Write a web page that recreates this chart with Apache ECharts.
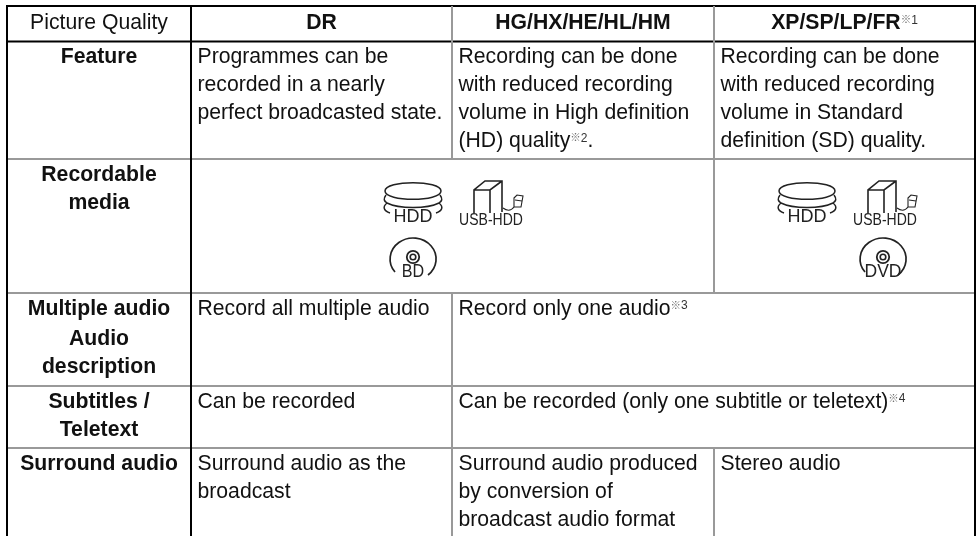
<!DOCTYPE html>
<html>
<head>
<meta charset="utf-8">
<style>html,body{margin:0;padding:0;background:#fff}#c{width:980px;height:536px}</style>
<script src="https://cdn.jsdelivr.net/npm/echarts@6/dist/echarts.min.js"></script>
</head>
<body>
<div id="c"></div>
<script>
// ---- table content ----
const headerCells = ["Picture Quality", "DR", "HG/HX/HE/HL/HM", "XP/SP/LP/FR※1"];
const rowLabels = [
  ["Feature"],
  ["Recordable", "media"],
  ["Multiple audio", "Audio", "description"],
  ["Subtitles /", "Teletext"],
  ["Surround audio"]
];
const featureCells = [
  ["Programmes can be", "recorded in a nearly", "perfect broadcasted state."],
  ["Recording can be done", "with reduced recording", "volume in High definition", "(HD) quality※2."],
  ["Recording can be done", "with reduced recording", "volume in Standard", "definition (SD) quality."]
];
const audioCells = [["Record all multiple audio"], ["Record only one audio※3"]];
const subtitleCells = [["Can be recorded"], ["Can be recorded (only one subtitle or teletext)※4"]];
const surroundCells = [
  ["Surround audio as the", "broadcast"],
  ["Surround audio produced", "by conversion of", "broadcast audio format"],
  ["Stereo audio"]
];
const mediaIcons = [
  ["hdd", 0], ["usb", 0], ["bd", 0],
  ["hdd", 1], ["usb", 1], ["dvd", 1]
];

// ---- layout ----
const colEdges = [7, 191, 452, 714, 975];
const rowEdges = [6, 41.5, 159, 293, 386, 448, 536];
const LINE_H = 28, PAD = 6.5, FS = 21.2;
const FONT = '"Liberation Sans", Arial, sans-serif';
const iconAnchors = [[413, 191], [807, 191]];
const BLACK = '#000', GREY = '#999';
// [x0,y0,x1,y1,colour]
const rules = [
  [colEdges[0] - 1, rowEdges[0], colEdges[4] + 1, rowEdges[0], BLACK],
  [colEdges[0], rowEdges[1], colEdges[4], rowEdges[1], BLACK],
  [colEdges[0], rowEdges[2], colEdges[4], rowEdges[2], GREY],
  [colEdges[0], rowEdges[3], colEdges[4], rowEdges[3], GREY],
  [colEdges[0], rowEdges[4], colEdges[4], rowEdges[4], GREY],
  [colEdges[0], rowEdges[5], colEdges[4], rowEdges[5], GREY],
  [colEdges[2], rowEdges[0], colEdges[2], rowEdges[2], GREY],
  [colEdges[2], rowEdges[3], colEdges[2], rowEdges[6], GREY],
  [colEdges[3], rowEdges[0], colEdges[3], rowEdges[3], GREY],
  [colEdges[3], rowEdges[5], colEdges[3], rowEdges[6], GREY],
  [colEdges[0], rowEdges[0], colEdges[0], rowEdges[6], BLACK],
  [colEdges[1], rowEdges[0], colEdges[1], rowEdges[6], BLACK],
  [colEdges[4], rowEdges[0], colEdges[4], rowEdges[6], BLACK]
];

// ---- cell list built from the arrays ----
const cells = [];
headerCells.forEach((t, c) => cells.push({ c, c2: c + 1, r: 0, lines: [t], center: true, bold: c > 0 }));
rowLabels.forEach((lines, i) => cells.push({ c: 0, c2: 1, r: i === 0 ? 1 : i + 1, lines, center: true, bold: true, gap: i === 2 ? 2 : 0 }));
featureCells.forEach((lines, i) => cells.push({ c: i + 1, c2: i + 2, r: 1, lines }));
cells.push({ c: 1, c2: 2, r: 3, lines: audioCells[0] }, { c: 2, c2: 4, r: 3, lines: audioCells[1] });
cells.push({ c: 1, c2: 2, r: 4, lines: subtitleCells[0] }, { c: 2, c2: 4, r: 4, lines: subtitleCells[1] });
surroundCells.forEach((lines, i) => cells.push({ c: i + 1, c2: i + 2, r: 5, lines }));

function lineText(line, x, y, align, bold) {
  const parts = line.split(/※(\d)/);
  const w = bold ? 'bold ' : '';
  let text = '';
  parts.forEach((p, i) => {
    if (!p) return;
    if (i % 2 === 0) text += '{n|' + p + '}';
    else text += '{m|※}{d|' + p + '}';
  });
  return {
    type: 'text',
    style: {
      x, y, text, align, verticalAlign: 'middle',
      rich: {
        n: { font: w + FS + 'px ' + FONT, fill: '#111', lineHeight: LINE_H, height: LINE_H },
        m: { font: '10.5px "Noto Sans CJK JP"', fill: '#666', verticalAlign: 'top', lineHeight: 20, height: 20 },
        d: { font: '12px ' + FONT, fill: '#333', verticalAlign: 'top', lineHeight: 22, height: 22 }
      }
    }
  };
}

function renderCell(params, api) {
  const cell = cells[api.value(0)];
  const x0 = api.coord([colEdges[cell.c], 0])[0];
  const x1 = api.coord([colEdges[cell.c2], 0])[0];
  const y0 = api.coord([0, rowEdges[cell.r]])[1];
  const x = cell.center ? (x0 + x1) / 2 : x0 + PAD;
  const first = cell.r === 0 ? y0 + 17.5 : y0 + 16;
  return {
    type: 'group',
    children: cell.lines.map((l, i) =>
      lineText(l, x, first + i * LINE_H + (i > 0 ? (cell.gap || 0) : 0), cell.center ? 'center' : 'left', cell.bold))
  };
}

function renderRule(params, api) {
  const a = api.coord([api.value(0), api.value(1)]);
  const b = api.coord([api.value(2), api.value(3)]);
  return {
    type: 'line',
    shape: { x1: a[0], y1: a[1], x2: b[0], y2: b[1] },
    style: { stroke: rules[params.dataIndex][4], lineWidth: 2 }
  };
}

const iconInk = '#222';
function iconLabel(text, x, y, size, sx) {
  return { type: 'text', x, y, scaleX: sx, scaleY: 1,
    style: { x: 0, y: 0, text, align: 'center', verticalAlign: 'middle', fill: iconInk,
      font: size + 'px "Liberation Sans"' } };
}
function stroke(d, w) {
  return { type: 'path', shape: { pathData: d }, style: { fill: null, stroke: iconInk, lineWidth: w || 1.5 } };
}
// icon glyphs, relative to the cell's media anchor
function glyph(kind) {
  if (kind === 'hdd') return [
    stroke('M -28 0 C -28 -11 28 -11 28 0 C 28 11 -28 11 -28 0 Z'),
    stroke('M -27 4 C -30 8 -29 10 -26 12 C -14 18 14 18 26 12 C 29 10 30 8 27 4'),
    stroke('M -26 12 C -31 16 -29 20 -23 22 M 26 12 C 31 16 29 20 23 22'),
    iconLabel('HDD', 0, 26, 18, 1)
  ];
  if (kind === 'usb') return [
    stroke('M 61 22 L 61 -1 L 72 -10 L 89 -10 L 89 21 M 61 -1 L 77 -1 L 89 -10 M 77 -1 L 77 22', 1.6),
    stroke('M 90 17 C 94 20 98 20 101 16', 1.1),
    stroke('M 101 7 L 104 4 L 110 5 L 108 16 L 101 16 Z M 102 9 L 109 10', 1.1),
    iconLabel('USB-HDD', 78, 30, 16.3, 0.86)
  ];
  const label = kind === 'bd' ? 'BD' : 'DVD';
  return [
    stroke('M -18 81 A 23 21 0 1 1 15 84', 1.7),
    { type: 'circle', shape: { cx: 0, cy: 66, r: 6.2 }, style: { fill: '#fff', stroke: iconInk, lineWidth: 1.8 } },
    { type: 'circle', shape: { cx: 0, cy: 66, r: 2.8 }, style: { fill: '#fff', stroke: iconInk, lineWidth: 1.6 } },
    iconLabel(label, 0, 81, 17.5, kind === 'bd' ? 0.92 : 1)
  ];
}
function renderIcon(params, api) {
  const item = mediaIcons[api.value(0)];
  const p = api.coord(iconAnchors[item[1]]);
  const dx = item[0] === 'dvd' ? 76 : 0;
  return { type: 'group', x: p[0] + dx, y: p[1], children: glyph(item[0]) };
}

const chart = echarts.init(document.getElementById('c'), null, { renderer: 'canvas' });
chart.setOption({
  animation: false,
  backgroundColor: '#fff',
  grid: { left: 0, right: 0, top: 0, bottom: 0 },
  xAxis: { type: 'value', min: 0, max: 980, show: false },
  yAxis: { type: 'value', min: 0, max: 536, inverse: true, show: false },
  series: [
    { type: 'custom', name: 'rules', coordinateSystem: 'cartesian2d', silent: true, clip: false,
      renderItem: renderRule, encode: { x: [0, 2], y: [1, 3] },
      data: rules.map(r => r.slice(0, 4)) },
    { type: 'custom', name: 'text', coordinateSystem: 'cartesian2d', silent: true, clip: false,
      renderItem: renderCell, encode: { x: 1, y: 2 },
      data: cells.map((c, i) => [i, colEdges[c.c], rowEdges[c.r]]) },
    { type: 'custom', name: 'media', coordinateSystem: 'cartesian2d', silent: true, clip: false,
      renderItem: renderIcon, encode: { x: 1, y: 2 },
      data: mediaIcons.map((m, i) => [i, iconAnchors[m[1]][0], iconAnchors[m[1]][1]]) }
  ]
});
</script>
</body>
</html>
